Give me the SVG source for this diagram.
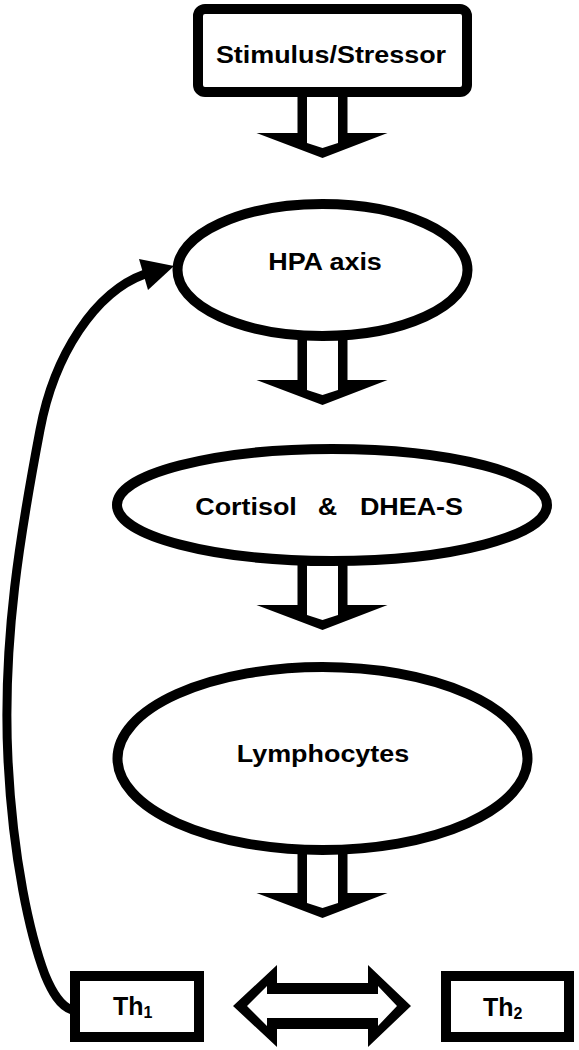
<svg xmlns="http://www.w3.org/2000/svg" xmlns:xlink="http://www.w3.org/1999/xlink" width="579" height="1050" viewBox="0 0 579 1050">
<style>
.node{fill:#fff;stroke:#000;stroke-width:10}
.lbl{font-family:"Liberation Sans",Arial,sans-serif;font-weight:bold;font-size:23px;text-anchor:middle;fill:#000}
.th{font-family:"Liberation Sans",Arial,sans-serif;font-weight:bold;font-size:25px;fill:#000}
.sub{font-size:16px}
.curve{fill:none;stroke:#000;stroke-width:9;stroke-linecap:butt}
</style>
<defs>
<g id="darrow">
<polygon points="-25,-68 25,-68 25,-25 65,-25 0,0 -66,-25 -25,-25" fill="#000"/>
<polygon points="-15.5,-68 15.5,-68 15.5,-15 0,-10 -15.5,-15" fill="#fff"/>
</g>
</defs>
<rect width="579" height="1050" fill="#fff"/>
<g id="connectors">
<use xlink:href="#darrow" href="#darrow" x="322.5" y="158"/>
<use xlink:href="#darrow" href="#darrow" x="322.5" y="405"/>
<use xlink:href="#darrow" href="#darrow" x="322.5" y="630"/>
<use xlink:href="#darrow" href="#darrow" x="322.5" y="918"/>
<g id="double-arrow">
<polygon points="233,1006 277,965 277,983 368,983 368,965 411,1006 368,1047 368,1029 277,1029 277,1047" fill="#000"/>
<polygon points="247,1006 267,986 267,994 378,994 378,986 397,1006 378,1026 378,1018 267,1018 267,1026" fill="#fff"/>
</g>
<g id="feedback">
<path class="curve" d="M145,274 C95,292 54,355 40,430 C21,530 2,640 8,760 C13,860 30,935 45,975 C52,992 60,1006 72,1010"/>
<polygon points="139,259 174,266 148,290" fill="#000"/>
</g>
</g>
<g id="stimulus">
<rect class="node" x="198" y="9" width="269" height="83" rx="7"/>
<text class="lbl" transform="translate(331,63) scale(1.17,1)">Stimulus/Stressor</text>
</g>
<g id="hpa">
<ellipse class="node" cx="322.5" cy="270" rx="145" ry="66"/>
<text class="lbl" transform="translate(325,270) scale(1.17,1)">HPA axis</text>
</g>
<g id="cortisol">
<ellipse class="node" cx="332" cy="505" rx="215" ry="56"/>
<text class="lbl" transform="translate(0,515) scale(1.17,1)"><tspan x="210.3">Cortisol</tspan><tspan x="279.9">&amp;</tspan><tspan x="351.7">DHEA-S</tspan></text>
</g>
<g id="lymphocytes">
<ellipse class="node" cx="322.5" cy="758.5" rx="205" ry="91.5"/>
<text class="lbl" transform="translate(323,762) scale(1.17,1)">Lymphocytes</text>
</g>
<g id="th1">
<rect class="node" x="75" y="976" width="124" height="61"/>
<text class="th" x="113" y="1015">Th<tspan class="sub" dy="3">1</tspan></text>
</g>
<g id="th2">
<rect class="node" x="446" y="976" width="123" height="61"/>
<text class="th" x="483" y="1016">Th<tspan class="sub" dy="3">2</tspan></text>
</g>
</svg>
